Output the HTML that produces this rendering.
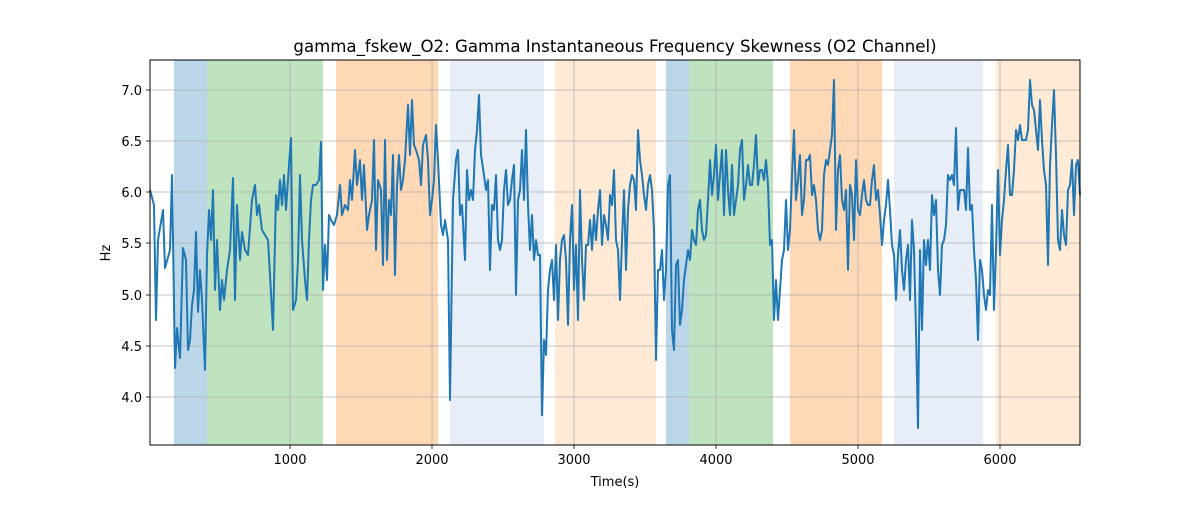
<!DOCTYPE html>
<html><head><meta charset="utf-8"><style>
body{margin:0;background:#fff;}
svg text{font-family:"DejaVu Sans","Liberation Sans",sans-serif;fill:#000;}
</style></head><body>
<svg width="1200" height="500" xmlns="http://www.w3.org/2000/svg">
<rect width="1200" height="500" fill="#fff"/>
<g>
<rect x="174" y="60" width="33" height="385" fill="#1f77b4" opacity="0.3"/>
<rect x="207" y="60" width="116" height="385" fill="#2ca02c" opacity="0.3"/>
<rect x="336" y="60" width="102" height="385" fill="#ff7f0e" opacity="0.3"/>
<rect x="450" y="60" width="94" height="385" fill="#aec7e8" opacity="0.3"/>
<rect x="555" y="60" width="101" height="385" fill="#ffbb78" opacity="0.3"/>
<rect x="666" y="60" width="23" height="385" fill="#1f77b4" opacity="0.3"/>
<rect x="689" y="60" width="84" height="385" fill="#2ca02c" opacity="0.3"/>
<rect x="790" y="60" width="92" height="385" fill="#ff7f0e" opacity="0.3"/>
<rect x="894" y="60" width="89" height="385" fill="#aec7e8" opacity="0.3"/>
<rect x="996" y="60" width="84" height="385" fill="#ffbb78" opacity="0.3"/>
</g>
<g stroke="#b0b0b0" stroke-width="0.8">
<line x1="290" y1="60" x2="290" y2="445"/><line x1="432" y1="60" x2="432" y2="445"/>
<line x1="574" y1="60" x2="574" y2="445"/><line x1="716" y1="60" x2="716" y2="445"/>
<line x1="858" y1="60" x2="858" y2="445"/><line x1="1000" y1="60" x2="1000" y2="445"/>
<line x1="150" y1="90" x2="1080" y2="90"/><line x1="150" y1="141" x2="1080" y2="141"/>
<line x1="150" y1="192" x2="1080" y2="192"/><line x1="150" y1="243" x2="1080" y2="243"/>
<line x1="150" y1="295" x2="1080" y2="295"/><line x1="150" y1="346" x2="1080" y2="346"/>
<line x1="150" y1="397" x2="1080" y2="397"/>
</g>
<polyline fill="none" stroke="#1f77b4" stroke-width="2" stroke-linejoin="round" points="150,190 154,205 156,320 158,240 163,210 165,268 170,250 172,175 175,368 177,328 180,358 183,248 186,260 188,350 190,340 192,305 194,290 196,232 198,312 200,270 202,300 205,370 207,255 209,210 211,240 213,190 215,290 217,240 220,310 222,280 224,300 227,270 230,250 233,178 235,300 237,205 240,260 242,232 245,250 248,255 252,200 255,185 257,215 259,205 262,230 265,235 268,240 270,275 273,330 276,195 278,210 280,180 282,205 284,175 286,210 289,165 291,138 293,310 296,300 298,260 300,175 302,240 305,280 307,300 309,240 311,200 313,185 316,185 319,180 321,142 323,290 325,245 327,280 329,215 331,220 334,225 337,215 340,185 342,215 345,205 348,210 350,180 352,200 355,150 357,185 360,160 362,200 364,165 367,230 369,215 372,200 374,140 376,250 378,180 381,190 383,265 385,140 387,260 389,200 391,215 393,155 395,275 397,185 399,155 401,190 403,180 405,160 408,105 410,155 412,100 414,145 416,150 419,160 421,185 423,145 426,135 428,160 430,215 432,200 434,180 436,125 438,160 441,225 443,235 445,220 448,240 450,400 453,200 456,160 458,150 460,215 462,205 465,260 467,170 469,200 471,190 473,200 475,150 477,130 479,95 481,155 484,175 486,190 488,180 490,270 492,205 494,210 496,175 498,240 500,250 502,240 504,190 506,170 508,205 510,200 512,180 514,165 516,295 518,200 520,190 522,150 524,200 526,130 528,205 530,250 532,215 534,260 536,240 538,255 540,255 542,415 544,340 546,355 548,290 550,270 552,260 554,300 556,245 558,320 560,260 562,240 564,235 566,260 568,325 570,240 572,205 574,290 576,245 578,320 580,190 582,260 584,300 586,245 588,245 590,220 592,250 594,215 596,240 598,210 600,190 602,245 604,215 606,225 608,240 610,195 612,205 614,170 616,240 618,250 620,300 622,240 624,190 626,270 628,210 630,185 632,175 634,180 636,210 638,130 640,160 642,175 644,195 646,210 648,185 650,175 652,190 654,230 656,360 658,270 660,270 662,250 664,300 666,270 668,185 670,175 672,330 674,350 676,265 678,260 680,325 682,310 684,280 686,265 688,250 690,260 692,230 694,240 696,245 698,210 700,200 702,230 704,240 706,235 708,200 710,160 712,195 714,175 716,145 718,200 720,175 722,150 724,215 726,150 728,190 730,215 732,165 734,215 736,200 738,185 740,150 742,140 744,200 746,185 748,165 750,185 752,185 754,165 756,135 758,185 760,170 762,170 764,180 766,160 768,185 770,245 772,240 774,320 776,280 778,320 780,290 782,260 784,250 786,200 788,250 790,230 792,175 794,130 796,200 798,180 800,155 802,215 804,200 806,160 808,160 810,155 812,195 814,185 816,200 818,230 820,240 822,230 824,175 826,160 828,165 830,150 832,135 834,80 836,230 838,170 840,155 842,200 844,210 846,190 848,270 850,185 852,195 854,240 856,160 858,210 860,215 862,195 864,180 866,200 868,205 870,205 872,180 874,165 876,200 878,190 880,215 882,245 884,220 886,205 888,180 890,210 892,245 894,255 896,300 898,255 900,230 902,270 904,290 906,260 908,245 910,300 912,220 914,250 916,330 918,428 920,250 922,330 924,240 926,265 928,240 930,270 932,195 934,215 936,200 938,270 940,295 942,245 944,240 946,225 948,175 950,180 952,175 954,185 956,128 958,210 960,190 962,190 964,190 966,210 968,148 970,210 972,205 974,250 976,280 978,340 980,260 982,270 984,295 986,310 988,290 990,295 992,205 994,310 996,250 998,170 1000,255 1002,220 1004,200 1006,170 1008,145 1010,195 1012,195 1014,170 1016,130 1018,140 1020,125 1022,140 1024,140 1026,140 1028,130 1030,80 1032,105 1034,110 1036,130 1038,150 1040,100 1042,140 1044,170 1046,185 1048,265 1050,165 1052,125 1054,90 1056,155 1058,240 1060,250 1062,210 1064,235 1066,245 1068,190 1070,185 1072,160 1074,215 1076,165 1078,160 1080,195"/>
<rect x="150" y="60" width="930" height="385" fill="none" stroke="#000" stroke-width="1"/>
<g stroke="#000" stroke-width="0.8">
<line x1="290" y1="445" x2="290" y2="449"/><line x1="432" y1="445" x2="432" y2="449"/>
<line x1="574" y1="445" x2="574" y2="449"/><line x1="716" y1="445" x2="716" y2="449"/>
<line x1="858" y1="445" x2="858" y2="449"/><line x1="1000" y1="445" x2="1000" y2="449"/>
<line x1="146" y1="90" x2="150" y2="90"/><line x1="146" y1="141" x2="150" y2="141"/>
<line x1="146" y1="192" x2="150" y2="192"/><line x1="146" y1="243" x2="150" y2="243"/>
<line x1="146" y1="295" x2="150" y2="295"/><line x1="146" y1="346" x2="150" y2="346"/>
<line x1="146" y1="397" x2="150" y2="397"/>
</g>
<g font-size="13" text-anchor="middle">
<text x="290" y="464">1000</text><text x="432" y="464">2000</text><text x="574" y="464">3000</text>
<text x="716" y="464">4000</text><text x="858" y="464">5000</text><text x="1000" y="464">6000</text>
<text x="615" y="486">Time(s)</text>
</g>
<g font-size="13" text-anchor="end">
<text x="142" y="95">7.0</text><text x="142" y="146">6.5</text><text x="142" y="197">6.0</text>
<text x="142" y="248">5.5</text><text x="142" y="300">5.0</text><text x="142" y="351">4.5</text>
<text x="142" y="402">4.0</text>
</g>
<text x="110" y="253" font-size="13" text-anchor="middle" transform="rotate(-90 110 253)">Hz</text>
<text x="615" y="52" font-size="16.6" text-anchor="middle">gamma_fskew_O2: Gamma Instantaneous Frequency Skewness (O2 Channel)</text>
</svg>
</body></html>
